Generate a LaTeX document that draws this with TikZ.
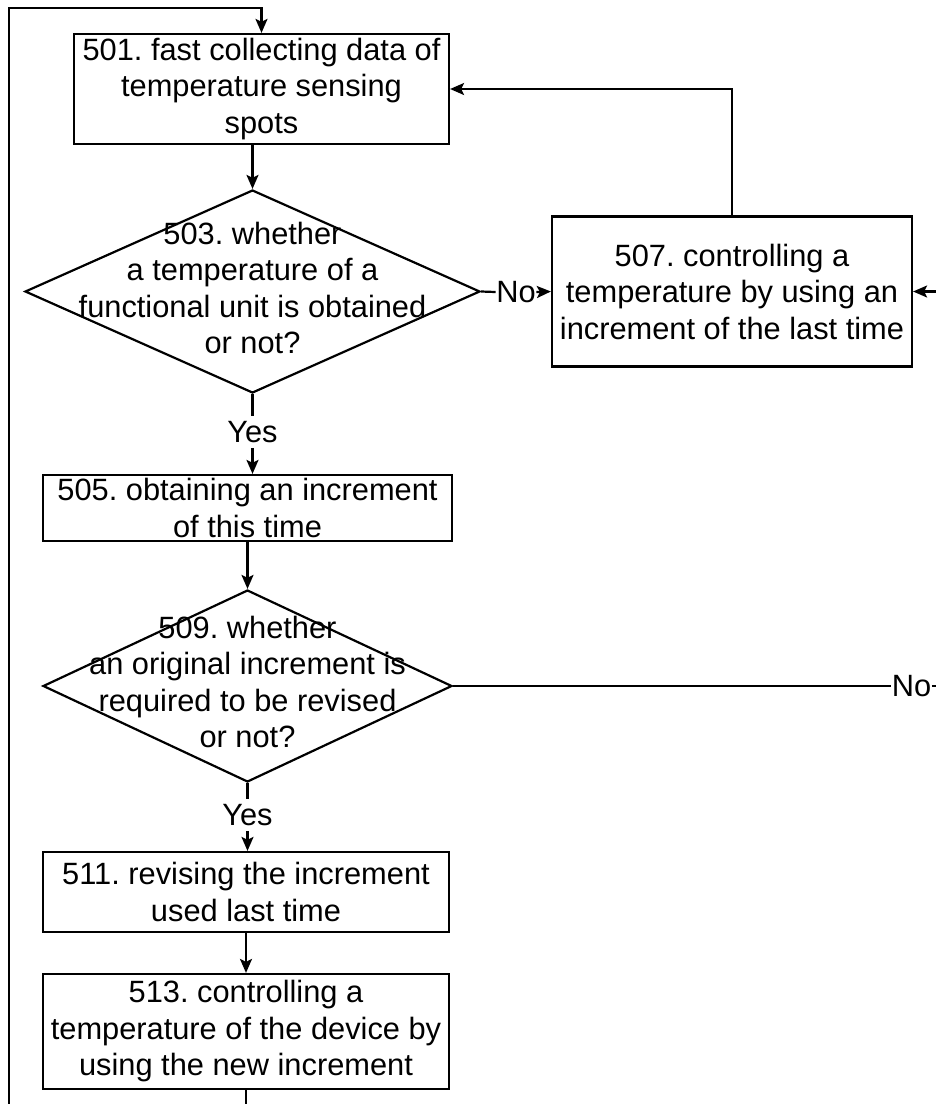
\documentclass[tikz,border=0pt]{standalone}
\usepackage{fontspec}
\setmainfont{Liberation Sans}
\usetikzlibrary{shapes.geometric,arrows.meta}
\newcommand{\flowfont}{\fontsize{30.8}{36.5}\selectfont}
\frenchspacing
\begin{document}
\begin{tikzpicture}[x=1pt,y=-1pt,
  conn/.style={draw, line width=2.2pt},
  arr/.style={conn, -{Stealth[length=14pt,width=12pt,inset=3pt]}},
  stepbox/.style={draw, line width=2.2pt, inner sep=0pt, align=center, font=\flowfont},
  decision/.style={diamond, draw, line width=2.2pt, inner sep=0pt},
  qtext/.style={inner sep=0pt, align=center, font=\flowfont},
  lbl/.style={font=\flowfont, inner xsep=1pt, inner ysep=5pt}]
\useasboundingbox (0,0) rectangle (936,1104);
\clip (0,0) rectangle (936,1104);
\fill[white] (0,0) rectangle (936,1104);

% boxes
\node[stepbox, minimum width=375pt, minimum height=110pt] (b501) at (261.5,89)
  {501. fast collecting data of\\temperature sensing\\spots};
\node[decision, minimum width=455pt, minimum height=203pt] (d503) at (252.5,291.5) {};
\node[qtext] (t503) at (252.5,288)
  {503. whether\\a temperature of a\\functional unit is obtained\\or not?};
\node[stepbox, minimum width=360pt, minimum height=150pt] (b507) at (732,291.5)
  {507. controlling a\\temperature by using an\\increment of the last time};
\node[stepbox, minimum width=409pt, minimum height=66pt] (b505) at (247.5,508)
  {505. obtaining an increment\\of this time};
\node[decision, minimum width=409pt, minimum height=192pt] (d509) at (247.5,686) {};
\node[qtext] (t509) at (247.5,682)
  {509. whether\\an original increment is\\required to be revised\\or not?};
\node[stepbox, minimum width=406pt, minimum height=80pt] (b511) at (246,892)
  {511. revising the increment\\used last time};
\node[stepbox, minimum width=406pt, minimum height=115pt] (b513) at (246,1031.5)
  {513. controlling a\\temperature of the device by\\using the new increment};

% labels
\node[lbl] (yes1) at (252.5,432) {Yes};
\node[lbl] (yes2) at (247.5,815) {Yes};
\node[lbl, inner xsep=0.5pt] (no1) at (516,292) {No};
\node[lbl, inner xsep=0.5pt] (no2) at (911.5,686) {No};

% connectors
\draw[arr] (b501.south -| d503.north) -- (d503.north);
\draw[conn] (d503.south) -- (yes1.north);
\draw[arr] (yes1.south) -- (yes1.south |- b505.north);
\draw[arr] (b505.south -| d509.north) -- (d509.north);
\draw[conn] (d509.south) -- (yes2.north);
\draw[arr] (yes2.south) -- (yes2.south |- b511.north);
\draw[arr] (b511.south) -- (b513.north);
\draw[conn] (d503.east) -- (no1.west);
\draw[arr] (no1.east) -- (b507.west);
\draw[arr] (b507.north) |- (b501.east);
\draw[conn] (d509.east) -- (no2.west);
\coordinate (rightturn) at (960,686);
\coordinate (bottomturn) at (246,1125);
\coordinate (leftbottom) at (9,1125);
\coordinate (lefttop) at (9,8);
\draw[arr] (no2.east) -- (rightturn) |- (b507.east);
\draw[arr] (b513.south) -- (bottomturn) -- (leftbottom) -- (lefttop) -| (b501.north);
\end{tikzpicture}
\end{document}
